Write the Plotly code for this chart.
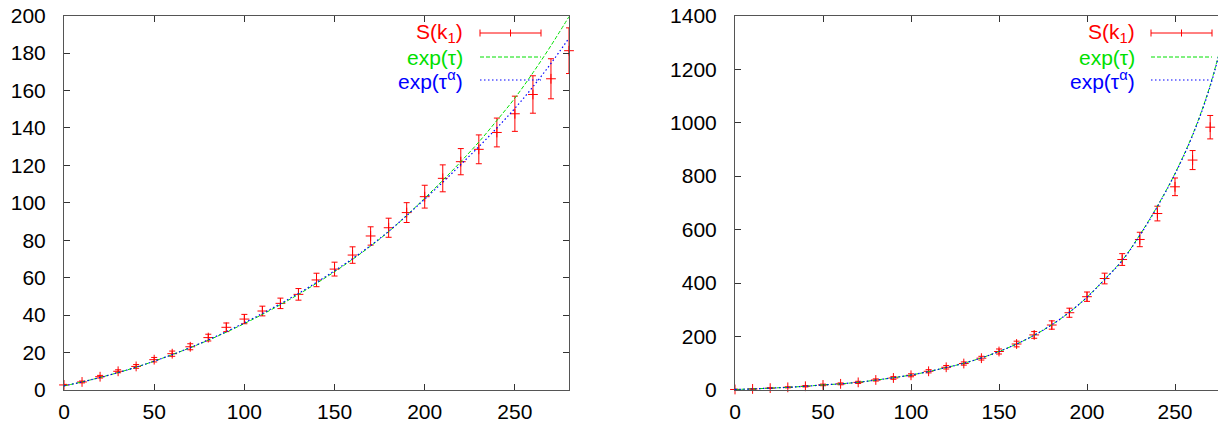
import plotly.graph_objects as go

# ---------- data ----------
k = [0, 10, 20, 30, 40, 50, 60, 70, 80, 90, 100, 110, 120, 130, 140,
     150, 160, 170, 180, 190, 200, 210, 220, 230, 240, 250, 260, 270, 280]

# left panel
S_left = [2.7, 4.3, 7.1, 10.0, 12.6, 16.2, 19.4, 23.1, 28.0, 33.5, 37.9, 42.2, 46.3, 51.1, 58.8,
          64.6, 72.1, 82.3, 86.7, 94.8, 103.3, 113.1, 122.0, 128.6, 137.6, 147.6, 157.9, 166.3, 181.3]
S_left_err = [0.3, 0.5, 0.7, 0.8, 1.0, 1.2, 1.4, 1.6, 1.8, 2.3, 2.5, 2.6, 2.8, 3.1, 3.6,
              3.7, 4.4, 4.9, 5.1, 5.3, 6.1, 7.2, 7.0, 7.7, 7.7, 9.4, 10.0, 10.7, 12.2]
exp_tau_left = [2.2, 4.3, 6.7, 9.3, 12.2, 15.4, 18.9, 22.6, 26.6, 30.9, 35.5, 40.4, 45.6, 51.1, 57.0,
                63.2, 69.8, 76.9, 84.6, 93.3, 102.5, 112.0, 122.0, 132.5, 144.0, 156.0, 169.5, 184.0, 199.5]
exp_tau_a_left = [2.2, 4.3, 6.7, 9.3, 12.2, 15.4, 18.9, 22.7, 26.8, 31.2, 35.9, 40.9, 46.1, 51.6, 57.5,
                  63.7, 70.2, 77.2, 84.8, 93.2, 102.0, 111.0, 120.5, 130.0, 140.0, 150.5, 162.0, 174.5, 188.0]

# right panel
k_r = [0, 10, 20, 30, 40, 50, 60, 70, 80, 90, 100, 110, 120, 130, 140,
       150, 160, 170, 180, 190, 200, 210, 220, 230, 240, 250, 260, 270]
S_right = [2, 4, 7, 10, 14, 19, 23, 28.5, 37.5, 45, 55, 70, 85, 99, 119,
           144, 172, 206, 243, 289, 349, 417, 488, 563, 660, 760, 860, 983]
S_right_err = [1, 1, 1.5, 2, 2.5, 3, 3.5, 4, 4, 5, 5.5, 6, 6.5, 6, 7,
               9.4, 10.6, 12.5, 15.6, 17, 17.5, 20, 22, 27, 27.5, 33, 35.6, 43.8]
exp_tau_right = [2, 4, 7, 10, 14, 19, 23, 29, 37, 46, 56, 69, 84, 100, 120,
                 144, 172, 205, 244, 291, 347, 414, 485, 580, 688, 810, 955, 1140, 1390]
exp_tau_a_right = [2, 4, 7, 10, 14, 19, 23, 29, 37, 46, 56, 69, 84, 100, 120,
                   144, 172, 205, 244, 291, 347, 413, 484, 578, 686, 808, 952, 1136, 1385]

legend_labels = ["S(k<sub>1</sub>)", "exp(τ)", "exp(τ<sup>α</sup>)"]

RED = "#ff0000"
GREEN = "#00e000"
BLUE = "#0000ff"
FONT = "Liberation Sans, Arial, Helvetica, sans-serif"
FS = 21

fig = go.Figure()


def add_panel(xs_pts, ys, err, xs_curve, c1, c2, xa, ya):
    fig.add_trace(go.Scatter(
        x=xs_pts, y=ys, mode="markers",
        marker=dict(symbol="cross-thin", size=7, line=dict(color=RED, width=1), color=RED),
        error_y=dict(type="data", array=err, visible=True, color=RED, thickness=1, width=3),
        xaxis=xa, yaxis=ya, showlegend=False, cliponaxis=False))
    fig.add_trace(go.Scatter(
        x=xs_curve, y=c1, mode="lines", line=dict(color=GREEN, width=1, dash="4px,2px", shape="spline"),
        xaxis=xa, yaxis=ya, showlegend=False))
    fig.add_trace(go.Scatter(
        x=xs_curve, y=c2, mode="lines", line=dict(color=BLUE, width=1.2, dash="1.5px,2.5px", shape="spline"),
        xaxis=xa, yaxis=ya, showlegend=False))


add_panel(k, S_left, S_left_err, k, exp_tau_left, exp_tau_a_left, "x", "y")
add_panel(k_r, S_right, S_right_err, k, exp_tau_right, exp_tau_a_right, "x2", "y2")

W, H = 1218, 426
L1, R1 = 64, 569
L2, R2 = 735, 1218
TOP, BOT = 15.7, 390

axis_common = dict(
    showgrid=False, zeroline=False, showline=True, linecolor="#555555", linewidth=1,
    ticks="inside", ticklen=6, tickcolor="#333333", tickwidth=1, automargin=False,
    tickfont=dict(family=FONT, size=FS, color="black"),
)

fig.update_layout(
    width=W, height=H, margin=dict(l=0, r=0, t=0, b=0, autoexpand=False),
    paper_bgcolor="white", plot_bgcolor="white",
    xaxis=dict(axis_common, domain=[L1 / W, R1 / W], range=[0, 280], dtick=50, tick0=0,
               mirror="ticks", anchor="y", ticklabelstandoff=3),
    yaxis=dict(axis_common, domain=[(H - BOT) / H, (H - TOP) / H], range=[0, 200], dtick=20,
               mirror="ticks", anchor="x", ticklabelstandoff=13),
    xaxis2=dict(axis_common, domain=[L2 / W, 1.0], range=[0, (R2 - L2) / 1.76], dtick=50, tick0=0,
                mirror="ticks", anchor="y2", ticklabelstandoff=3),
    yaxis2=dict(axis_common, domain=[(H - BOT) / H, (H - TOP) / H], range=[0, 1400], dtick=200,
                mirror=False, anchor="x2", ticklabelstandoff=13),
    showlegend=False,
)

# ---------- gnuplot-style key (text right-aligned, sample on the right) ----------
plot_h = BOT - TOP
rows_px = [33, 57, 80]
colors = [RED, GREEN, BLUE]


def add_key(xa, left_px, width_px, text_right_px, s0_px, s1_px):
    xd = xa + " domain"
    yd = ("y" if xa == "x" else "y2") + " domain"
    fx = lambda p: (p - left_px) / width_px
    fy = lambda p: (BOT - p) / plot_h
    for lab, col, r in zip(legend_labels, colors, rows_px):
        fig.add_annotation(xref=xd, yref=yd, x=fx(text_right_px), y=fy(r), text=lab,
                           showarrow=False, xanchor="right", yanchor="middle",
                           font=dict(family=FONT, size=FS, color=col))
    # error-bar sample
    fig.add_shape(type="line", xref=xd, yref=yd, x0=fx(s0_px), x1=fx(s1_px), y0=fy(rows_px[0]), y1=fy(rows_px[0]),
                  line=dict(color=RED, width=1))
    for p in (s0_px, (s0_px + s1_px) / 2, s1_px):
        fig.add_shape(type="line", xref=xd, yref=yd, x0=fx(p), x1=fx(p),
                      y0=fy(rows_px[0] - 3.5), y1=fy(rows_px[0] + 3.5), line=dict(color=RED, width=1))
    fig.add_shape(type="line", xref=xd, yref=yd, x0=fx(s0_px), x1=fx(s1_px), y0=fy(rows_px[1]), y1=fy(rows_px[1]),
                  line=dict(color=GREEN, width=1, dash="4px,2px"))
    fig.add_shape(type="line", xref=xd, yref=yd, x0=fx(s0_px), x1=fx(s1_px), y0=fy(rows_px[2]), y1=fy(rows_px[2]),
                  line=dict(color=BLUE, width=1.2, dash="1.5px,2.5px"))


add_key("x", L1, R1 - L1, 465, 480, 541)
add_key("x2", L2, R2 - L2, 1137, 1151, 1212)

fig.write_html("out.html")
